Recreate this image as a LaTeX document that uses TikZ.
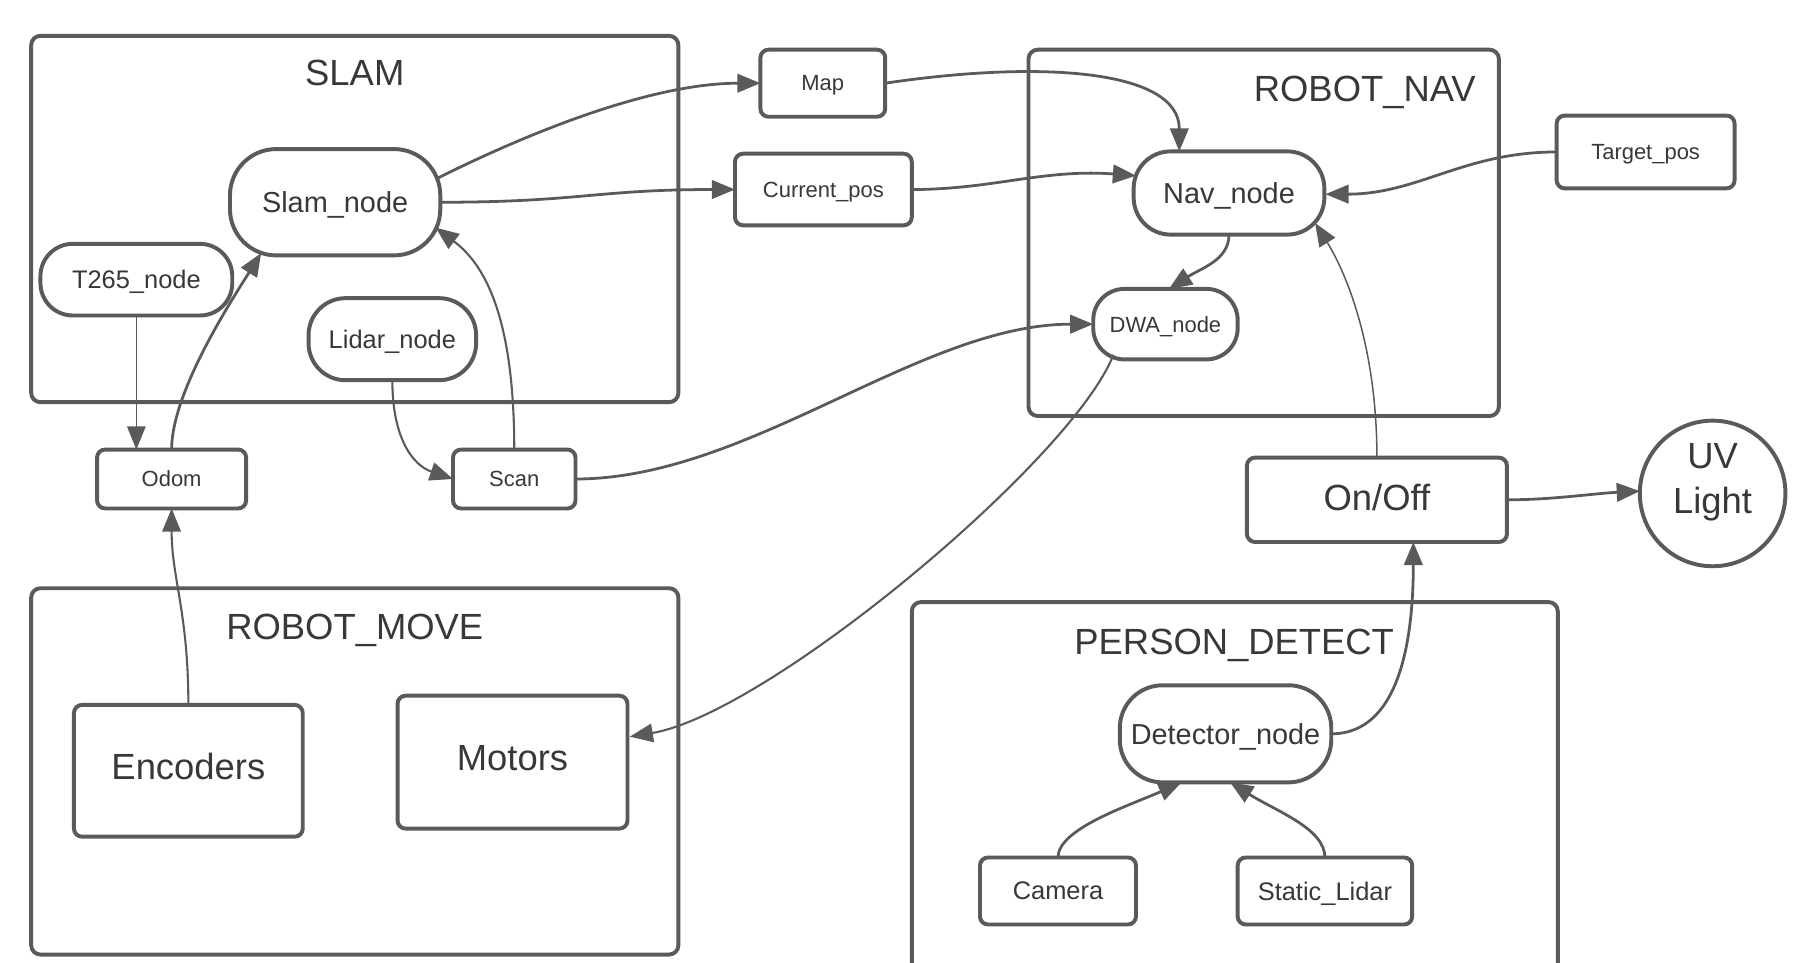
\documentclass[tikz,border=0pt]{standalone}
\usepackage{fontspec}
\setmainfont{Liberation Sans}
\usetikzlibrary{arrows.meta,calc}
\definecolor{ink}{HTML}{5A5A5A}
\definecolor{txt}{HTML}{383838}
\newcommand\fsXL{\fontsize{31.5}{39}\selectfont}
\newcommand\fsL{\fontsize{25}{30}\selectfont}
\newcommand\fsM{\fontsize{22}{26}\selectfont}
\newcommand\fsS{\fontsize{19}{23}\selectfont}
\tikzset{
  every node/.style={text=txt, inner sep=0pt, outer sep=0pt},
  group/.style={draw=ink, line width=3.4pt, rounded corners=8pt},
  title/.style={font=\fsXL, text depth=0pt},
  boxnode/.style={draw=ink, line width=3.4pt, rounded corners=7pt, text depth=0pt},
  pill/.style={draw=ink, line width=3.4pt, rounded corners=#1, text depth=0pt},
  conn/.style={draw=ink, line width=2.4pt, -{Triangle[length=20pt,width=16pt]}},
  midconn/.style={conn, line width=1.8pt},
  thinconn/.style={conn, line width=1.3pt},
}
\begin{document}
\begin{tikzpicture}[x=1pt,y=-1pt]
\clip (0,0) rectangle (1568,833);
\fill[white] (0,0) rectangle (1568,833);

% subsystem frames
\node[group, minimum width=560pt, minimum height=317pt] (slambox) at (307,189.5) {};
\node[group, minimum width=407pt, minimum height=317pt] (navbox) at (1093.5,201.5) {};
\node[group, minimum width=560pt, minimum height=317pt] (movebox) at (307,667.5) {};
\node[group, minimum width=559pt, minimum height=339pt] (detbox) at (1068.5,690.5) {};

\node[title] (slamtitle) at (307,63) {SLAM};
\node[title] (navtitle) at (1181,77) {ROBOT\_NAV};
\node[title] (movetitle) at (307,542) {ROBOT\_MOVE};
\node[title] (dettitle) at (1068,555) {PERSON\_DETECT};

% ROS nodes
\node[pill=40pt, minimum width=182pt, minimum height=92pt, font=\fsL] (slam) at (290,175) {Slam\_node};
\node[pill=28pt, minimum width=166pt, minimum height=62pt, font=\fsM] (t265) at (118,242) {T265\_node};
\node[pill=32pt, minimum width=145pt, minimum height=71pt, font=\fsM] (lidar) at (339.5,293.5) {Lidar\_node};
\node[pill=32pt, minimum width=165pt, minimum height=72pt, font=\fsL] (nav) at (1063.5,167) {Nav\_node};
\node[pill=27pt, minimum width=125pt, minimum height=61pt, font=\fsS] (dwa) at (1008.5,280.5) {DWA\_node};
\node[pill=37pt, minimum width=183pt, minimum height=84pt, font=\fsL] (det) at (1060.5,635) {Detector\_node};

% topics and devices
\node[boxnode, minimum width=108pt, minimum height=58pt, font=\fsS] (map) at (712,72) {Map};
\node[boxnode, minimum width=153pt, minimum height=62pt, font=\fsS] (cur) at (712.5,164) {Current\_pos};
\node[boxnode, minimum width=154pt, minimum height=63pt, font=\fsS] (tgt) at (1424,131.5) {Target\_pos};
\node[boxnode, minimum width=129pt, minimum height=51pt, font=\fsS] (odom) at (148.5,414.5) {Odom};
\node[boxnode, minimum width=106pt, minimum height=51pt, font=\fsS] (scan) at (445,414.5) {Scan};
\node[boxnode, minimum width=225pt, minimum height=73pt, font=\fsXL, text depth=5pt] (onoff) at (1191.5,432.5) {On/Off};
\node[boxnode, minimum width=198pt, minimum height=114pt, font=\fsXL, text depth=8pt] (enc) at (163,667) {Encoders};
\node[boxnode, minimum width=199pt, minimum height=115pt, font=\fsXL, text depth=8pt] (mot) at (443.5,659.5) {Motors};
\node[boxnode, minimum width=135pt, minimum height=58pt, font=\fsM] (cam) at (915.5,771) {Camera};
\node[boxnode, minimum width=151pt, minimum height=58pt, font=\fsM] (slid) at (1146.5,771) {Static\_Lidar};
\node[draw=ink, line width=3.4pt, circle, minimum size=126pt] (uv) at (1482,427) {};
\node[font=\fsXL, align=center] (uvtext) at (1482,417) {UV\\Light};

% connectors
\draw[conn] ($(slam.east)+(-4,-20)$) .. controls +(90,-45) and +(-90,0) .. (map.west);
\draw[conn] (slam.east) .. controls +(120,0) and +(-120,0) .. (cur.west);
\draw[conn] (map.east) .. controls +(134,-20) and +(0,-71) .. ($(nav.north)+(-43,0)$);
\draw[conn] (cur.east) .. controls +(70,0) and +(-80,-6) .. ($(nav.west)+(2,-15)$);
\draw[conn] (tgt.west) .. controls +(-80,0) and +(80,0) .. ($(nav.east)+(1,1)$);
\draw[conn] (nav.south) .. controls +(0,22) and +(28,-18) .. ($(dwa.north)+(3,0)$);
\draw[conn] (scan.east) .. controls +(150,0) and +(-150,0) .. (dwa.west);
\draw[midconn] ($(dwa.south)+(-45,-4)$) .. controls +(-35,90) and +(120,-20) .. ($(mot.east)+(2,-22)$);
\draw[thinconn] (onoff.north) .. controls +(0,-100) and +(25,40) .. ($(nav.south east)+(-8,-10)$);
\draw[conn] (onoff.east) .. controls +(40,0) and +(-40,2) .. ($(uv.west)+(0,-2)$);
\draw[conn] (det.east) .. controls +(60,0) and +(0,82) .. ($(onoff.south)+(31.5,0)$);
\draw[conn] (cam.north) .. controls +(0,-25) and +(-45,20) .. ($(det.south)+(-38,0)$);
\draw[conn] (slid.north) .. controls +(0,-25) and +(40,25) .. ($(det.south)+(4,0)$);
\draw[midconn] (enc.north) .. controls +(0,-80) and +(0,60) .. (odom.south);
\draw[conn] (odom.north) .. controls +(0,-50) and +(-25,40) .. ($(slam.south)+(-64,-2)$);
\draw[thinconn] (t265.south) -- (t265.south |- odom.north);
\draw[midconn] (lidar.south) .. controls +(0,50) and +(-35,-12) .. (scan.west);
\draw[midconn] (scan.north) .. controls +(0,-120) and +(40,30) .. ($(slam.east)+(-4,22)$);
\end{tikzpicture}
\end{document}
